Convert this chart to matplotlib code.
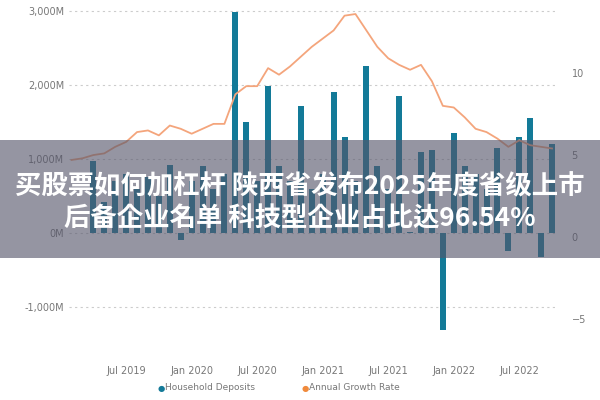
import matplotlib
matplotlib.use("Agg")
import matplotlib.pyplot as plt
from matplotlib.patches import Rectangle
from matplotlib import font_manager as fm

months = list(range(1, 46))  # month index, Jan 2019 = 0
deposits = [None, None, 970, 420, 700, 800, 600, 750, 500, 920, -90, 700, 900, 600, 800,
            2980, 1500, 700, 1980, 900, 700, 1720, 600, 800, 1900, 1300, 700, 2250, 900, 600,
            1850, 20, 1100, 1120, -1400, 1350, 900, 800, 600, 1150, -250, 1300, 1550, -330, 1200]
growth = [4.7, 4.8, 5.0, 5.1, 5.5, 5.8, 6.4, 6.5, 6.2, 6.8, 6.6, 6.3, 6.6, 6.9, 6.9,
          8.7, 9.2, 9.2, 10.3, 9.9, 10.4, 11.0, 11.6, 12.1, 12.6, 13.5, 13.6, 12.6, 11.6, 10.9,
          10.5, 10.2, 10.5, 9.5, 8.0, 7.9, 7.3, 6.6, 6.4, 6.0, 5.5, 5.9, 5.6, 5.5, 5.4]
tick_pos = [6, 12, 18, 24, 30, 36, 42]
tick_labels = ["Jul 2019", "Jan 2020", "Jul 2020", "Jan 2021", "Jul 2021", "Jan 2022", "Jul 2022"]
left_ticks = [-1000, 0, 1000, 2000, 3000]
left_labels = ["-1,000M", "0M", "1,000M", "2,000M", "3,000M"]
right_ticks = [-5, 0, 5, 10]
title_lines = ["买股票如何加杠杆 陕西省发布2025年度省级上市", "后备企业名单 科技型企业占比达96.54%"]

bar_c = "#137a98"
line_c = "#f4a57c"
txt_c = "#777777"

cjk = None
for f in fm.fontManager.ttflist:
    if "CJK SC" in f.name or "CJK" in f.name:
        if cjk is None or f.weight in ("bold", 700):
            cjk = f.fname
fp = fm.FontProperties(fname=cjk, size=19, weight="bold") if cjk else fm.FontProperties(size=19, weight="bold")

fig = plt.figure(figsize=(6, 4), dpi=100)
ax = fig.add_axes([0.115, 0.175, 0.81, 0.8125])
bx = [m for m, v in zip(months, deposits) if v is not None]
bv = [v for v in deposits if v is not None]
ax.bar(bx, bv, width=0.55, color=bar_c, zorder=2)
ax.set_ylim(-1311, 3081)
ax.set_xlim(0.77, 45.27)
ax.set_yticks(left_ticks)
ax.set_yticklabels(left_labels)
ax.set_xticks(tick_pos)
ax.set_xticklabels(tick_labels)
ax.grid(axis="y", linestyle=(0, (2, 3)), color="#cccccc", lw=0.8)
ax.set_axisbelow(True)
for s in ax.spines.values():
    s.set_visible(False)
ax.tick_params(length=0, labelsize=7, colors=txt_c)
ax.tick_params(axis="x", pad=26)

ax2 = ax.twinx()
ax2.plot(months, growth, color=line_c, lw=1.3, zorder=3)
ax2.set_ylim(-5.67, 14.15)
ax2.set_yticks(right_ticks)
for s in ax2.spines.values():
    s.set_visible(False)
ax2.tick_params(length=0, labelsize=7, colors=txt_c, pad=12)

fig.text(0.268, 0.03, "\u25CF", color=bar_c, fontsize=6, ha="center", va="center")
fig.text(0.275, 0.03, "Household Deposits", color=txt_c, fontsize=6.5, ha="left", va="center")
fig.text(0.508, 0.03, "\u25CF", color="#f08a3c", fontsize=6, ha="center", va="center")
fig.text(0.515, 0.03, "Annual Growth Rate", color=txt_c, fontsize=6.5, ha="left", va="center")

fig.patches.append(Rectangle((0, 1 - 258 / 400), 1, 118 / 400, transform=fig.transFigure,
                             facecolor="#55556a", alpha=0.62, zorder=10))
fig.text(0.5, 1 - 187 / 400, title_lines[0], color="white", fontproperties=fp,
         ha="center", va="center", zorder=11)
fig.text(0.5, 1 - 218 / 400, title_lines[1], color="white", fontproperties=fp,
         ha="center", va="center", zorder=11)

fig.savefig("out.png", dpi=100)
